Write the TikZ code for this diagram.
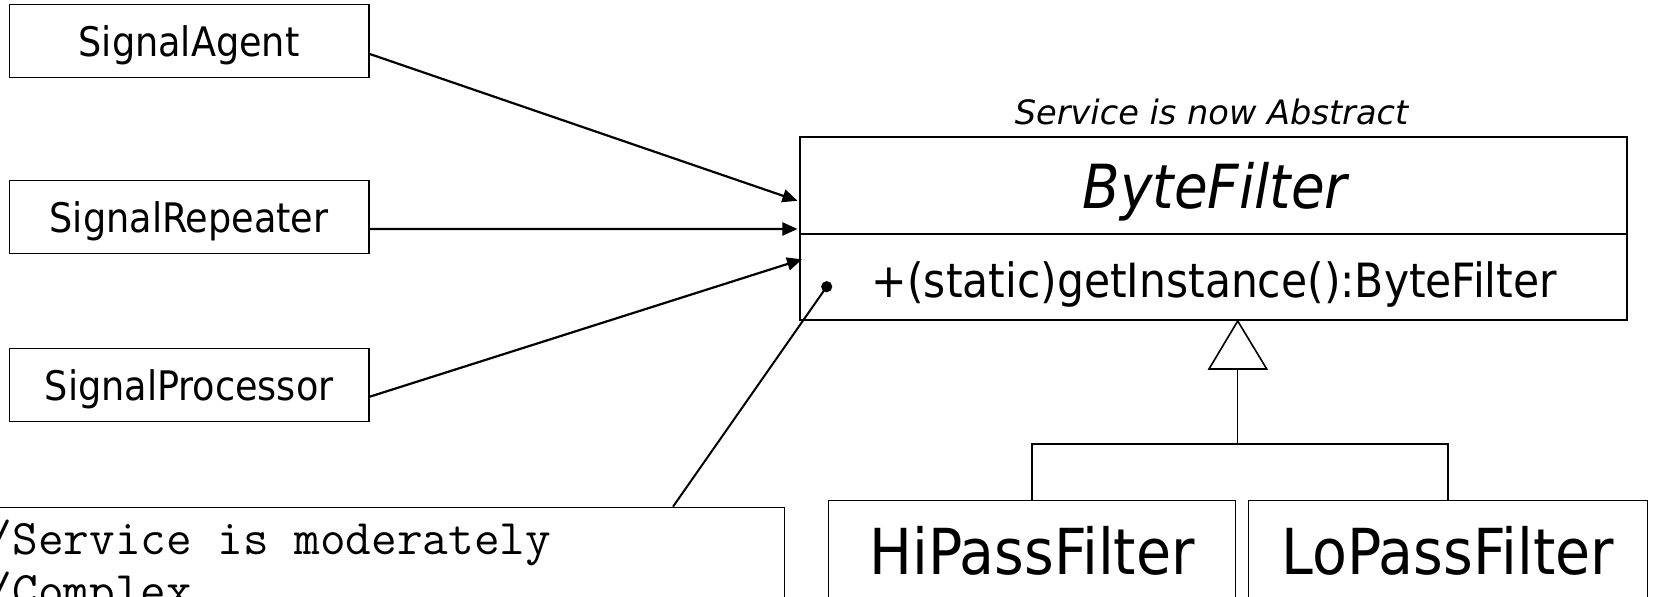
\documentclass[tikz,border=0pt]{standalone}
\usepackage{fontspec}
\setmainfont{DejaVu Sans Condensed}[ItalicFont={DejaVu Sans Condensed Oblique}]
\newfontfamily\captionfont{DejaVu Sans}[ItalicFont={DejaVu Sans Oblique}]
\usetikzlibrary{arrows.meta}

\begin{document}
\begin{tikzpicture}[x=0.5pt,y=-0.5pt,
  clientbox/.style={draw, line width=0.75pt, rectangle, inner sep=0pt,
    minimum width=179.85pt, minimum height=36.5pt,
    text height=20pt, text depth=4.5pt,
    font=\fontsize{20.35pt}{24pt}\selectfont},
  subbox/.style={draw, line width=0.75pt, rectangle, inner sep=0pt,
    minimum height=69.65pt, text height=25pt, text depth=20.35pt,
    font=\fontsize{31.7pt}{36pt}\selectfont},
  uses/.style={line width=1.1pt, -{Triangle[length=7.5pt,width=6.5pt]}},
  tree/.style={line width=0.75pt},
  code/.style={anchor=base west, inner sep=0pt,
    font=\ttfamily\fontsize{24.9pt}{26pt}\selectfont}]
\useasboundingbox (0,0) rectangle (1653,597);

% client classes
\node[clientbox] (agent)     at (189.15,40.8) {SignalAgent};
\node[clientbox] (repeater)  at (189.15,217)  {SignalRepeater};
\node[clientbox] (processor) at (189.15,385)  {SignalProcessor};

% abstract service class
\node[draw, line width=0.95pt, rectangle, inner sep=0pt,
      minimum width=413.5pt, minimum height=91.65pt] (bf) at (1213.5,228.35) {};
\coordinate (div) at (1213.5,234);
\draw[line width=0.95pt] (bf.west |- div) -- (bf.east |- div);
\node[anchor=base, font=\captionfont\itshape\fontsize{16.8pt}{20pt}\selectfont]
  (abstractnote) at (1211.5,125) {Service is now Abstract};
\node[anchor=base, font=\itshape\fontsize{30.4pt}{35pt}\selectfont]
  (bfname) at (1215,209) {ByteFilter};
\node[anchor=base, font=\fontsize{23.6pt}{28pt}\selectfont]
  (bfop) at (1214.2,298) {+(static)getInstance():ByteFilter};

% dependencies of the clients on the service
\draw[uses] ([yshift=-6.6pt]agent.east) -- ([xshift=-0.8pt,yshift=13.8pt]bf.west);
\draw[uses] ([yshift=-6pt]repeater.east) -- ([xshift=-0.8pt,yshift=-0.33pt]bf.west);
\draw[uses] ([yshift=-5.85pt]processor.east) -- ([xshift=1.5pt,yshift=-15.5pt]bf.west);

% concrete subclasses
\node[subbox, minimum width=203.7pt] (hi) at (1032,570.35) {HiPassFilter};
\node[subbox, minimum width=199.7pt] (lo) at (1448,570.35) {LoPassFilter};

% generalisation
\coordinate (apex) at (1237.7,321);
\coordinate (tbase) at (1237.7,369);
\coordinate (fork) at (1237.7,444);
\draw[line width=0.8pt, line join=miter] (apex) -- (1209,369) -- (1266.7,369) -- cycle;
\draw[tree] (tbase) -- (fork);
\draw[tree] (hi.north) -- (hi.north |- fork) -- (lo.north |- fork) -- (lo.north);

% note attached to getInstance
\node[draw, line width=0.75pt, rectangle, inner sep=0pt, anchor=north east,
      minimum width=400pt, minimum height=65pt] (note) at (785,506.7) {};
\node[code] (noteline1) at (-13.6,555)   {/Service is moderately};
\node[code] (noteline2) at (-13.6,606.7) {/Complex};
\coordinate (dot) at (826.7,286.7);
\fill (dot) circle (2.8pt);
\draw[line width=1pt] (dot) -- ([xshift=-56pt]note.north east);
\end{tikzpicture}
\end{document}
